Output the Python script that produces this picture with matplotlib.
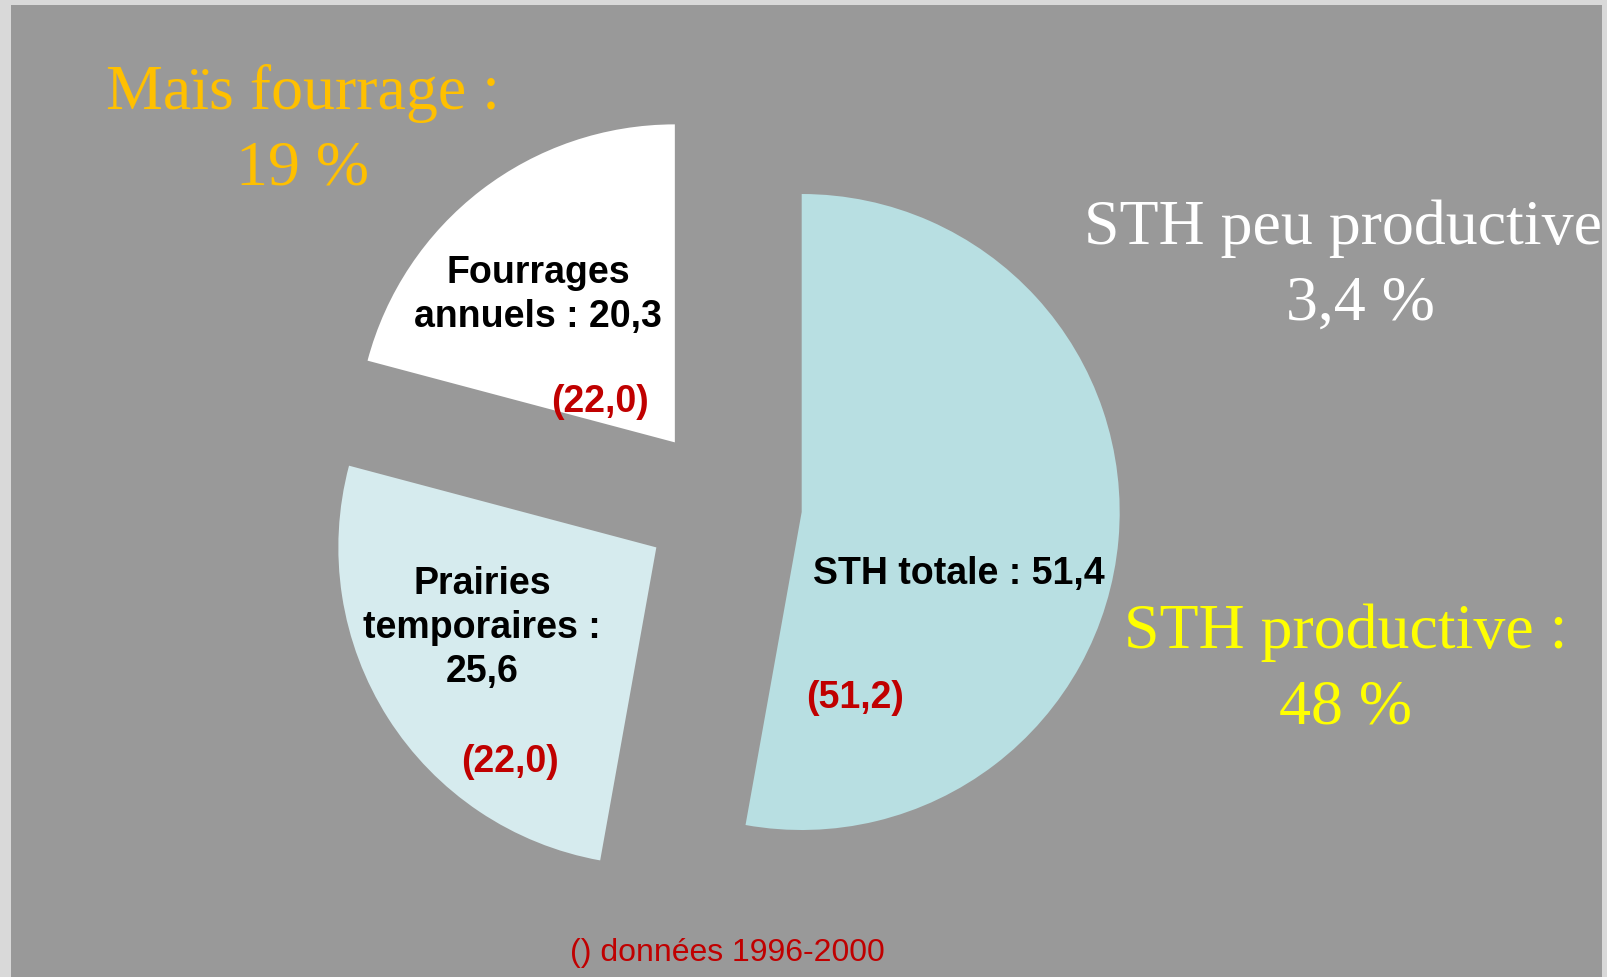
import matplotlib
matplotlib.use("Agg")
import matplotlib.pyplot as plt

# surfaces fourrageres (%), valeurs actuelles et (1996-2000)
categories = ["STH totale", "Prairies temporaires", "Fourrages annuels"]
values = [51.4, 25.6, 20.3]
values_old = [51.2, 22.0, 22.0]
slice_colors = ["#b8dfe2", "#d6ebee", "#ffffff"]

mais_share = 19
sth_peu_share = 3.4
sth_prod_share = 48


def fr(v, nd=1):
    return f"{v:.{nd}f}".replace(".", ",")


W, H = 1608, 978
fig = plt.figure(figsize=(W / 100, H / 100), dpi=100, facecolor="#d9d9d9")
# grey panel, in pixel units (y up)
x0, x1, top = 11, 1602, 972
ax = fig.add_axes([x0 / W, 0, (x1 - x0) / W, top / H])

radius = 318
ax.pie(values, colors=slice_colors, startangle=90, counterclock=False,
       center=(723, 472), radius=radius, explode=[79, 79, 79],
       wedgeprops=dict(linewidth=0))
ax.set_xlim(x0, x1)
ax.set_ylim(0, top)
ax.set_aspect("auto")
ax.set_frame_on(True)
ax.set_facecolor("#999999")
ax.set_xticks([])
ax.set_yticks([])
for s in ax.spines.values():
    s.set_visible(False)

bold = dict(family="Liberation Sans", fontweight="bold", fontsize=27,
            ha="center", va="center", linespacing=1.3)
red = "#c00000"

# etiquettes des secteurs
ax.text(538, 683, f"Fourrages\nannuels : {fr(values[2])}", color="black", **bold)
ax.text(600, 576, f"({fr(values_old[2])})", color=red, **bold)
ax.text(482, 350, f"Prairies\ntemporaires :\n{fr(values[1])}", color="black", **bold)
ax.text(510, 216, f"({fr(values_old[1])})", color=red, **bold)
ax.text(959, 404, f"STH totale : {fr(values[0])}", color="black", **bold)
ax.text(855, 280, f"({fr(values_old[0])})", color=red, **bold)

# baseline = ligne du bas ; le texte deborde a droite et se fait couper
serif = dict(family="Liberation Serif", fontsize=46, ha="center",
             va="baseline", linespacing=1.4, clip_on=True)
ax.text(303, 978 - 185, f"Maïs fourrage :\n{mais_share} %", color="#ffc000", **serif)
ax.text(1360, 978 - 320, f"STH peu productive :\n{fr(sth_peu_share)} %", color="white", **serif)
ax.text(1346, 978 - 724, f"STH productive :\n{sth_prod_share} %", color="#ffff00", **serif)

ax.text(727, 25, "() données 1996-2000", color=red, family="Liberation Sans",
        fontsize=23, ha="center", va="center")

fig.savefig("out.png", dpi=100, facecolor=fig.get_facecolor())
